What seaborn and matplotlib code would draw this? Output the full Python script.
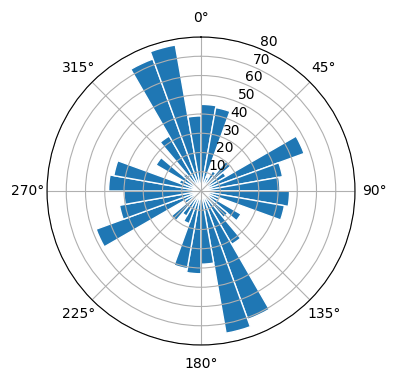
import numpy as np
import matplotlib
matplotlib.use("Agg")
import matplotlib.pyplot as plt
import seaborn as sns

# direction bins (deg, left edge) and counts per bin
directions = list(range(0, 360, 10))
counts = [45, 44, 8, 12, 20, 15, 57, 43, 41, 46, 44, 10,
          24, 18, 32, 71, 75, 38, 43, 41, 18, 15, 20, 10,
          58, 43, 40, 48, 46, 12, 27, 12, 33, 73, 77, 39]
theta_ticks = list(range(0, 360, 45))
r_ticks = [10, 20, 30, 40, 50, 60, 70, 80]

color = sns.color_palette("tab10")[0]

fig = plt.figure(figsize=(3.96, 3.8), dpi=100)
ax = fig.add_axes([0.1187, 0.0921, 0.7778, 0.8105], projection="polar")
ax.set_theta_zero_location("N")
ax.set_theta_direction(-1)

theta = np.deg2rad(directions)
ax.bar(theta, counts, width=np.deg2rad(10), align="edge",
       color=color, edgecolor="white", linewidth=1)

ax.set_thetagrids(theta_ticks, [f"{t}°" for t in theta_ticks])
ax.set_rticks(r_ticks)
ax.set_rlim(0, 80)

fig.savefig("out.png", dpi=100)
